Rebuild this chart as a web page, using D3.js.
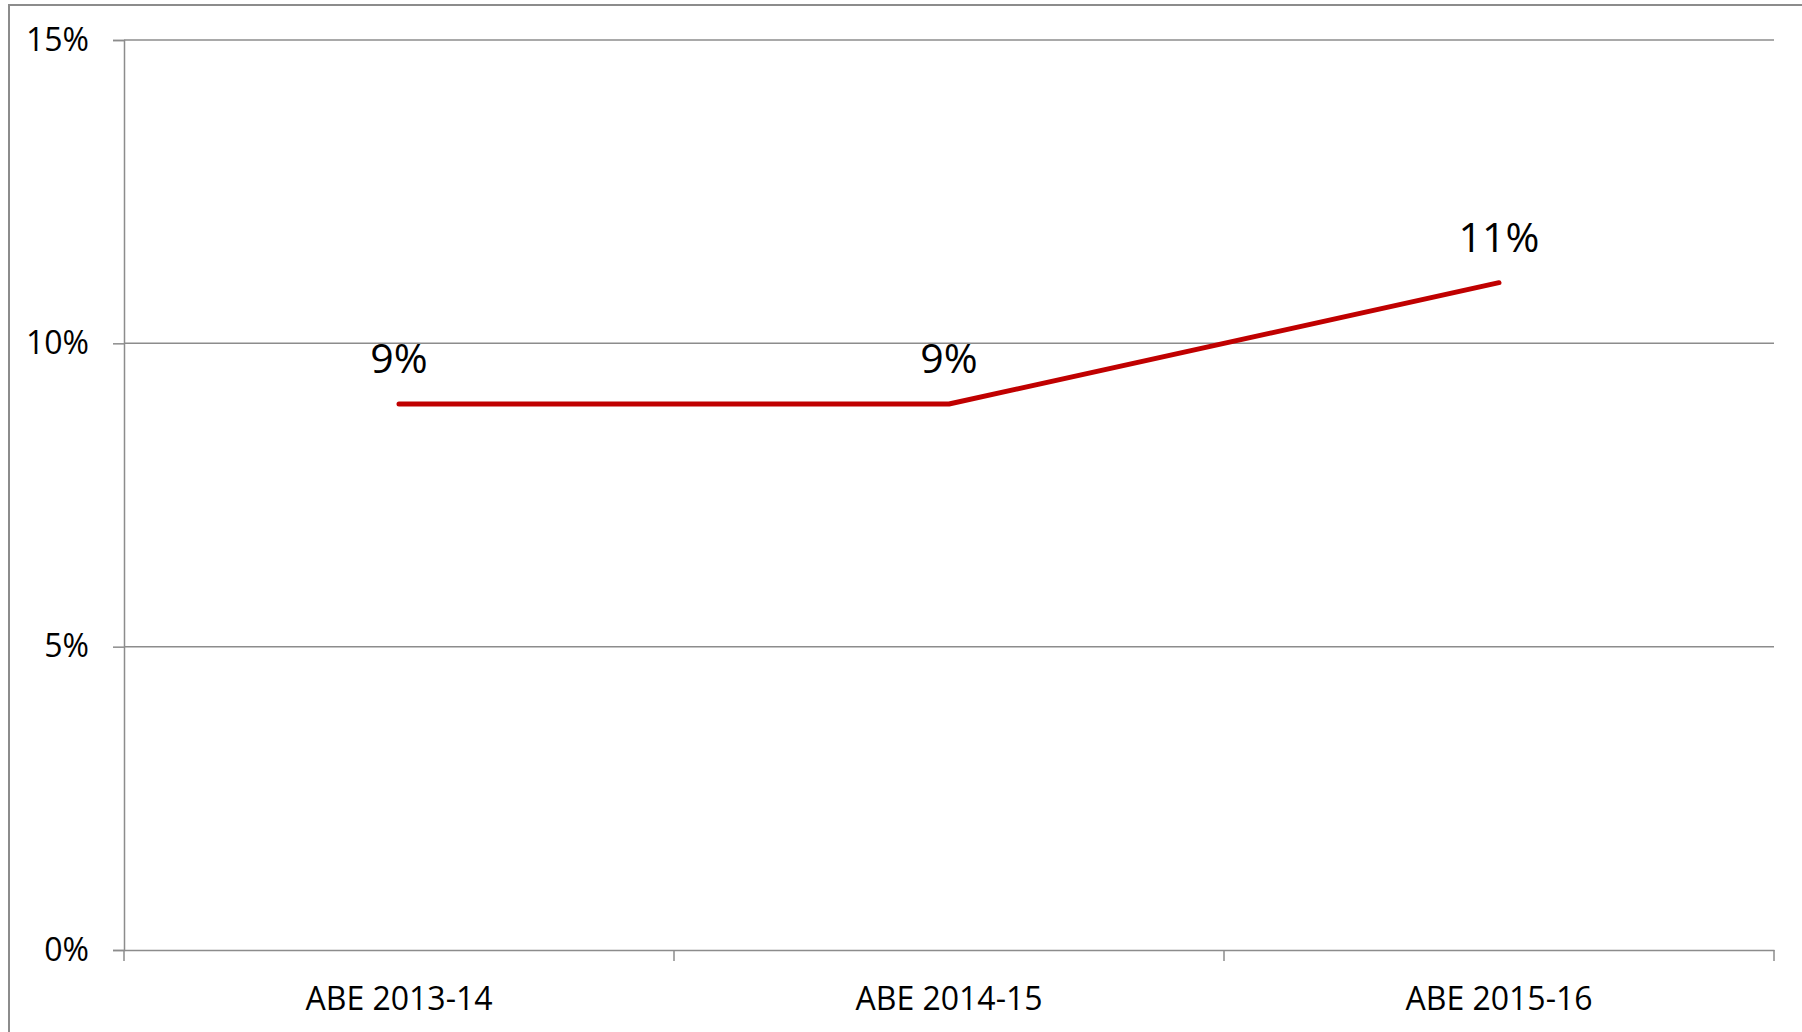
<!DOCTYPE html>
<html>
<head>
<meta charset="utf-8">
<script src="https://cdn.jsdelivr.net/npm/d3@7"></script>
<style>
  body { margin: 0; background: #fff; }
  svg text { font-family: "Open Sans", "Noto Sans", sans-serif; fill: #000; }
</style>
</head>
<body>
<script>
var categories = ["ABE 2013-14", "ABE 2014-15", "ABE 2015-16"];
var values = [0.09, 0.09, 0.11];
var labels = ["9%", "9%", "11%"];
var yTicks = [0, 0.05, 0.10, 0.15];

var W = 1802, H = 1032;
var plotLeft = 124, plotRight = 1774, plotTop = 40, plotBottom = 950;

var svg = d3.select("body").append("svg")
    .attr("width", W)
    .attr("height", H);

// outer chart border (runs off the page to the right and bottom)
svg.append("rect")
    .attr("x", 9).attr("y", 5)
    .attr("width", W).attr("height", H)
    .style("fill", "none")
    .style("stroke", "#8c8c8c")
    .style("stroke-width", 2);

var x = d3.scaleBand().domain(categories).range([plotLeft, plotRight]);
var y = d3.scaleLinear().domain([0, 0.15]).range([plotBottom, plotTop]);

// gridlines
svg.selectAll(".grid").data(yTicks.slice(1)).enter().append("line")
    .attr("x1", plotLeft).attr("x2", plotRight)
    .attr("y1", function(d){return y(d)})
    .attr("y2", function(d){return y(d)})
    .style("stroke", "#8c8c8c")
    .style("stroke-width", 1.5);

// y axis
var yAxis = svg.append("g")
    .attr("transform", "translate(" + plotLeft + ",0)")
    .call(d3.axisLeft(y).tickValues(yTicks).tickFormat(d3.format(".0%")).tickSize(11).tickPadding(24));

// x axis
var xAxis = svg.append("g")
    .attr("transform", "translate(0," + plotBottom + ")")
    .call(d3.axisBottom(x).tickSize(0).tickPadding(37));

// x ticks between categories
var bounds = [plotLeft].concat(categories.map(function(c){return x(c) + x.bandwidth()}));
xAxis.selectAll(".sep").data(bounds).enter().append("line")
    .attr("x1", function(d){return d}).attr("x2", function(d){return d})
    .attr("y1", 0).attr("y2", 11);

[yAxis, xAxis].forEach(function(g) {
    g.select(".domain").style("stroke", "#8c8c8c").style("stroke-width", 1.5);
    g.selectAll("line").style("stroke", "#8c8c8c").style("stroke-width", 1.5);
    g.selectAll("text")
        .style("font-family", "'Open Sans', 'Noto Sans', sans-serif")
        .style("font-size", "32px")
        .style("fill", "#000");
});

var cx = function(d, i){return x(categories[i]) + x.bandwidth() / 2};

var line = d3.line()
    .x(cx)
    .y(function(d){return y(d)});

svg.append("path")
    .datum(values)
    .attr("d", line)
    .style("fill", "none")
    .style("stroke", "#c00000")
    .style("stroke-width", 5)
    .style("stroke-linecap", "round")
    .style("stroke-linejoin", "round");

svg.selectAll(".lbl").data(values).enter().append("text")
    .attr("x", cx)
    .attr("y", function(d){return y(d) - 31})
    .attr("text-anchor", "middle")
    .style("font-size", "41px")
    .text(function(d, i){return labels[i]});
</script>
</body>
</html>
